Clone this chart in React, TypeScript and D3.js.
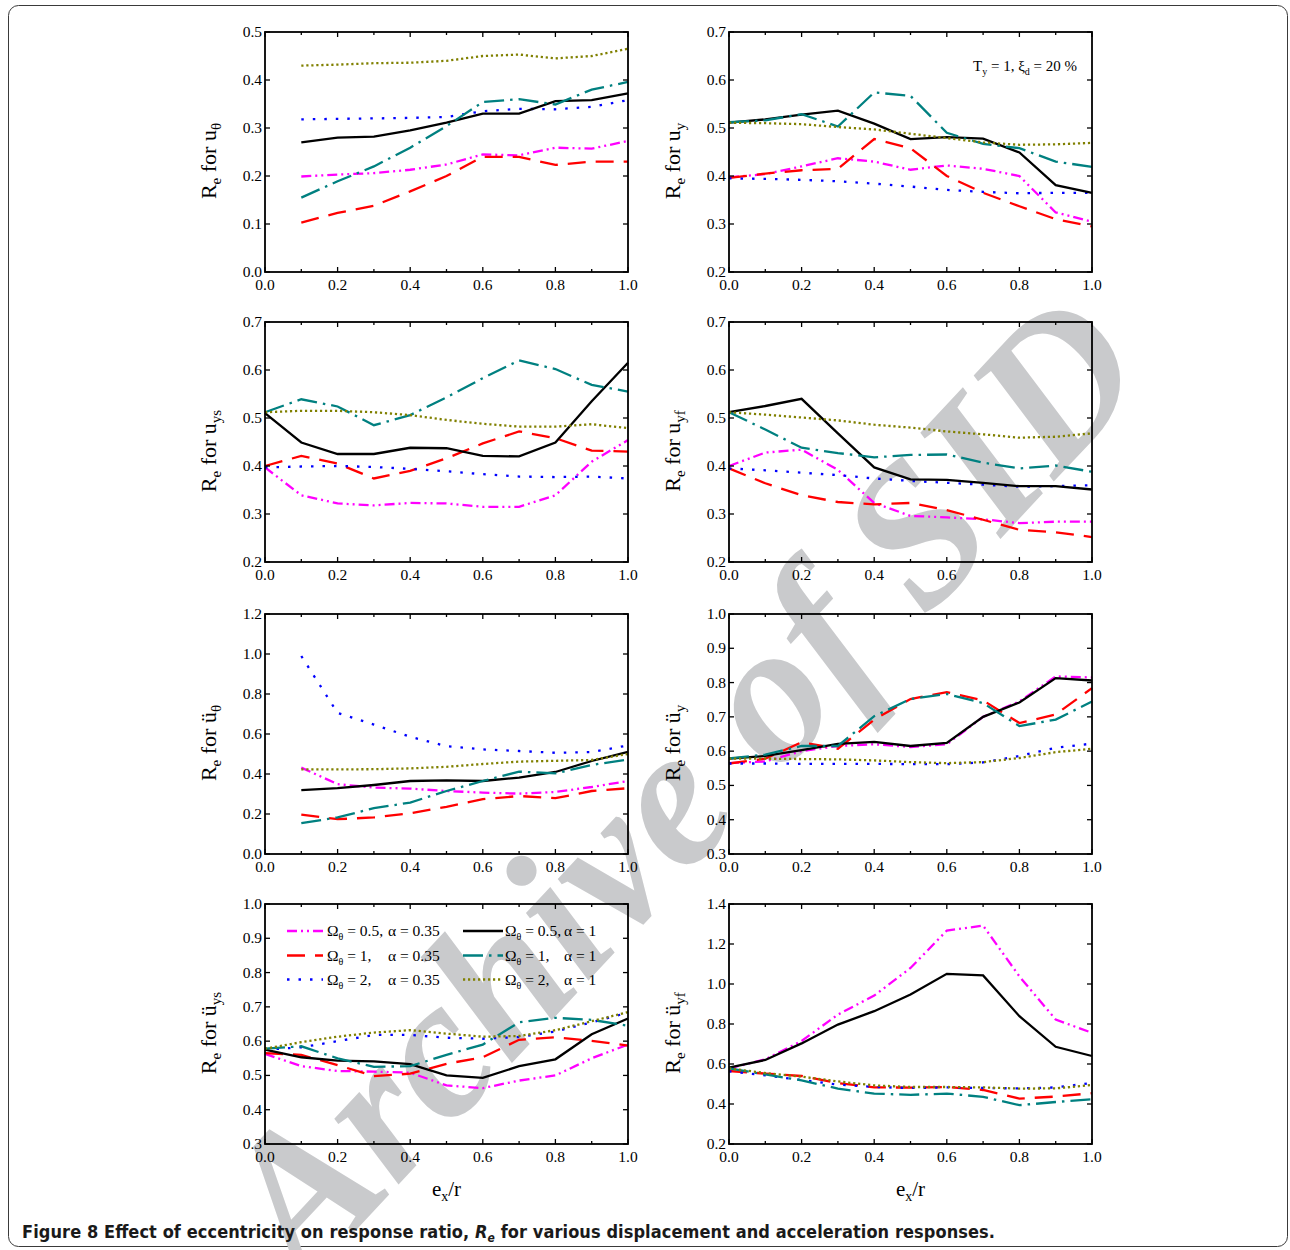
import React from 'react';
import * as d3 from 'd3';

// Eccentricity ratio e_x / r
const X_FULL = [0, 0.1, 0.2, 0.3, 0.4, 0.5, 0.6, 0.7, 0.8, 0.9, 1.0];
const X_FROM_01 = [0.1, 0.2, 0.3, 0.4, 0.5, 0.6, 0.7, 0.8, 0.9, 1.0];

// Series order: [Ω=0.5 α=0.35, Ω=1 α=0.35, Ω=2 α=0.35, Ω=0.5 α=1, Ω=1 α=1, Ω=2 α=1]
const SERIES_COLORS = ['#ff00ff', '#ff0000', '#0000ff', '#000000', '#008080', '#808000'];
const SERIES_DASH = ['10,4,2,4,2,4', '18,10', '2.5,9', '', '20,6,2.5,6', '2.2,2.8'];
const LEGEND_OMEGA = ['= 0.5,', '= 1,', '= 2,', '= 0.5,', '= 1,', '= 2,'];
const LEGEND_ALPHA = ['α = 0.35', 'α = 0.35', 'α = 0.35', 'α = 1', 'α = 1', 'α = 1'];

// R_e for u_θ
const uTheta = [
  [0.199, 0.203, 0.206, 0.213, 0.224, 0.245, 0.243, 0.259, 0.257, 0.273],
  [0.103, 0.123, 0.138, 0.168, 0.2, 0.24, 0.24, 0.223, 0.23, 0.23],
  [0.318, 0.319, 0.32, 0.321, 0.323, 0.335, 0.34, 0.339, 0.344, 0.358],
  [0.27, 0.28, 0.282, 0.295, 0.311, 0.33, 0.33, 0.356, 0.358, 0.372],
  [0.155, 0.189, 0.22, 0.259, 0.304, 0.354, 0.36, 0.349, 0.38, 0.396],
  [0.43, 0.432, 0.435, 0.436, 0.44, 0.45, 0.453, 0.445, 0.45, 0.465],
];

// R_e for u_y
const uY = [
  [0.397, 0.404, 0.42, 0.437, 0.43, 0.413, 0.422, 0.415, 0.4, 0.324, 0.305],
  [0.396, 0.405, 0.412, 0.415, 0.477, 0.458, 0.4, 0.365, 0.337, 0.31, 0.295],
  [0.395, 0.394, 0.392, 0.389, 0.384, 0.378, 0.371, 0.367, 0.364, 0.365, 0.365],
  [0.511, 0.518, 0.528, 0.536, 0.509, 0.477, 0.481, 0.478, 0.449, 0.381, 0.365],
  [0.512, 0.516, 0.529, 0.503, 0.574, 0.567, 0.49, 0.467, 0.458, 0.43, 0.419],
  [0.511, 0.51, 0.508, 0.502, 0.497, 0.488, 0.479, 0.47, 0.465, 0.466, 0.469],
];

// R_e for u_ys
const uYs = [
  [0.397, 0.339, 0.322, 0.318, 0.323, 0.322, 0.315, 0.315, 0.339, 0.409, 0.454],
  [0.4, 0.421, 0.405, 0.374, 0.39, 0.416, 0.447, 0.472, 0.458, 0.432, 0.43],
  [0.397, 0.399, 0.4, 0.398, 0.394, 0.389, 0.383, 0.378, 0.377, 0.378, 0.374],
  [0.51, 0.449, 0.425, 0.425, 0.438, 0.437, 0.421, 0.42, 0.449, 0.535, 0.615],
  [0.512, 0.539, 0.524, 0.485, 0.506, 0.543, 0.583, 0.62, 0.602, 0.569, 0.555],
  [0.512, 0.515, 0.515, 0.512, 0.506, 0.496, 0.488, 0.482, 0.482, 0.487, 0.479],
];

// R_e for u_yf
const uYf = [
  [0.4, 0.428, 0.434, 0.392, 0.323, 0.296, 0.293, 0.289, 0.281, 0.284, 0.284],
  [0.395, 0.364, 0.339, 0.325, 0.32, 0.323, 0.308, 0.288, 0.267, 0.262, 0.252],
  [0.395, 0.391, 0.386, 0.381, 0.374, 0.369, 0.365, 0.361, 0.357, 0.358, 0.36],
  [0.512, 0.525, 0.54, 0.468, 0.397, 0.372, 0.371, 0.365, 0.358, 0.358, 0.351],
  [0.512, 0.476, 0.438, 0.427, 0.418, 0.423, 0.424, 0.407, 0.395, 0.401, 0.388],
  [0.512, 0.507, 0.501, 0.495, 0.486, 0.48, 0.472, 0.466, 0.459, 0.461, 0.468],
];

// R_e for ü_θ
const accTheta = [
  [0.432, 0.349, 0.332, 0.327, 0.315, 0.307, 0.302, 0.31, 0.335, 0.365],
  [0.197, 0.174, 0.183, 0.204, 0.236, 0.274, 0.29, 0.279, 0.315, 0.329],
  [0.99, 0.705, 0.647, 0.586, 0.539, 0.523, 0.515, 0.506, 0.51, 0.543],
  [0.319, 0.329, 0.345, 0.365, 0.368, 0.365, 0.382, 0.41, 0.465, 0.511],
  [0.154, 0.183, 0.229, 0.257, 0.315, 0.365, 0.412, 0.403, 0.445, 0.473],
  [0.423, 0.423, 0.424, 0.428, 0.436, 0.45, 0.462, 0.466, 0.47, 0.5],
];

// R_e for ü_y
const accY = [
  [0.565, 0.57, 0.6, 0.615, 0.62, 0.612, 0.62, 0.7, 0.745, 0.818, 0.815],
  [0.564, 0.578, 0.626, 0.607, 0.692, 0.752, 0.772, 0.748, 0.682, 0.707, 0.784],
  [0.564, 0.564, 0.563, 0.563, 0.563, 0.562, 0.562, 0.567, 0.586, 0.61, 0.622],
  [0.578, 0.586, 0.603, 0.621, 0.627, 0.615, 0.624, 0.7, 0.742, 0.813, 0.806],
  [0.579, 0.59, 0.615, 0.615, 0.702, 0.752, 0.767, 0.74, 0.673, 0.692, 0.745],
  [0.578, 0.578, 0.577, 0.576, 0.573, 0.568, 0.565, 0.568, 0.58, 0.597, 0.607],
];

// R_e for ü_ys
const accYs = [
  [0.563, 0.527, 0.513, 0.511, 0.508, 0.471, 0.463, 0.485, 0.5, 0.55, 0.59],
  [0.565, 0.56, 0.53, 0.498, 0.505, 0.534, 0.553, 0.604, 0.611, 0.601, 0.587],
  [0.575, 0.582, 0.6, 0.618, 0.618, 0.61, 0.607, 0.612, 0.628, 0.655, 0.683],
  [0.575, 0.553, 0.543, 0.541, 0.533, 0.5, 0.493, 0.527, 0.547, 0.62, 0.666],
  [0.578, 0.585, 0.55, 0.525, 0.527, 0.56, 0.59, 0.655, 0.668, 0.662, 0.645],
  [0.578, 0.597, 0.613, 0.625, 0.632, 0.622, 0.613, 0.615, 0.632, 0.658, 0.685],
];

// R_e for ü_yf
const accYf = [
  [0.578, 0.623, 0.715, 0.847, 0.942, 1.08, 1.267, 1.292, 1.038, 0.822, 0.756],
  [0.565, 0.552, 0.54, 0.505, 0.483, 0.482, 0.485, 0.47, 0.427, 0.437, 0.454],
  [0.563, 0.543, 0.52, 0.497, 0.485, 0.48, 0.483, 0.48, 0.478, 0.483, 0.505],
  [0.582, 0.62, 0.703, 0.797, 0.864, 0.947, 1.051, 1.043, 0.839, 0.686, 0.64],
  [0.578, 0.548, 0.518, 0.477, 0.452, 0.446, 0.452, 0.436, 0.394, 0.41, 0.424],
  [0.578, 0.555, 0.537, 0.513, 0.493, 0.485, 0.485, 0.483, 0.477, 0.478, 0.495],
];

const SERIF = '"Liberation Serif", "Times New Roman", serif';
const PANEL_W = 363;
const PANEL_H = 240;
const COL_LEFT = [265, 729];
const ROW_TOP = [32, 322, 614, 904];

type PanelSpec = {
  col: number;
  row: number;
  xs: number[];
  data: number[][];
  yMin: number;
  yMax: number;
  yStep: number;
  sym: string;
  sub: string;
};

const PANELS: PanelSpec[] = [
  { col: 0, row: 0, xs: X_FROM_01, data: uTheta, yMin: 0, yMax: 0.5, yStep: 0.1, sym: 'u', sub: 'θ' },
  { col: 1, row: 0, xs: X_FULL, data: uY, yMin: 0.2, yMax: 0.7, yStep: 0.1, sym: 'u', sub: 'y' },
  { col: 0, row: 1, xs: X_FULL, data: uYs, yMin: 0.2, yMax: 0.7, yStep: 0.1, sym: 'u', sub: 'ys' },
  { col: 1, row: 1, xs: X_FULL, data: uYf, yMin: 0.2, yMax: 0.7, yStep: 0.1, sym: 'u', sub: 'yf' },
  { col: 0, row: 2, xs: X_FROM_01, data: accTheta, yMin: 0, yMax: 1.2, yStep: 0.2, sym: 'ü', sub: 'θ' },
  { col: 1, row: 2, xs: X_FULL, data: accY, yMin: 0.3, yMax: 1.0, yStep: 0.1, sym: 'ü', sub: 'y' },
  { col: 0, row: 3, xs: X_FULL, data: accYs, yMin: 0.3, yMax: 1.0, yStep: 0.1, sym: 'ü', sub: 'ys' },
  { col: 1, row: 3, xs: X_FULL, data: accYf, yMin: 0.2, yMax: 1.4, yStep: 0.2, sym: 'ü', sub: 'yf' },
];

function Panel({ spec }: { spec: PanelSpec }) {
  const left = COL_LEFT[spec.col];
  const top = ROW_TOP[spec.row];
  const x = d3.scaleLinear().domain([0, 1]).range([left, left + PANEL_W]);
  const y = d3.scaleLinear().domain([spec.yMin, spec.yMax]).range([top + PANEL_H, top]);
  const nY = Math.round((spec.yMax - spec.yMin) / spec.yStep);
  const yTicks = d3.range(nY + 1).map((i) => spec.yMin + i * spec.yStep);
  const xMajor = [0, 0.2, 0.4, 0.6, 0.8, 1.0];
  const xMinor = [0.1, 0.3, 0.5, 0.7, 0.9];
  const fmt = d3.format('.1f');
  const bottom = top + PANEL_H;
  const right = left + PANEL_W;
  const line = d3
    .line<number>()
    .x((_, i) => x(spec.xs[i]))
    .y((v) => y(v));

  return (
    <g>
      {spec.data.map((vals, si) => (
        <path
          key={si}
          d={line(vals) || ''}
          fill="none"
          stroke={SERIES_COLORS[si]}
          strokeWidth={2.3}
          strokeDasharray={SERIES_DASH[si] || undefined}
        />
      ))}
      <rect x={left} y={top} width={PANEL_W} height={PANEL_H} fill="none" stroke="#000" strokeWidth={1.8} />
      {xMajor.map((t) => (
        <g key={'xm' + t}>
          <line x1={x(t)} x2={x(t)} y1={bottom} y2={bottom - 5} stroke="#000" strokeWidth={1.3} />
          <line x1={x(t)} x2={x(t)} y1={top} y2={top + 5} stroke="#000" strokeWidth={1.3} />
          <text x={x(t)} y={bottom + 18} textAnchor="middle" fontFamily={SERIF} fontSize={15.5}>
            {fmt(t)}
          </text>
        </g>
      ))}
      {xMinor.map((t) => (
        <g key={'xn' + t}>
          <line x1={x(t)} x2={x(t)} y1={bottom} y2={bottom - 3} stroke="#000" strokeWidth={1.3} />
          <line x1={x(t)} x2={x(t)} y1={top} y2={top + 3} stroke="#000" strokeWidth={1.3} />
        </g>
      ))}
      {yTicks.map((t) => (
        <g key={'y' + t}>
          <line x1={left} x2={left + 5} y1={y(t)} y2={y(t)} stroke="#000" strokeWidth={1.3} />
          <line x1={right} x2={right - 5} y1={y(t)} y2={y(t)} stroke="#000" strokeWidth={1.3} />
          <text x={left - 3} y={y(t) + 5} textAnchor="end" fontFamily={SERIF} fontSize={15.5}>
            {fmt(t)}
          </text>
        </g>
      ))}
      <text
        transform={`translate(${left - 49},${top + PANEL_H / 2 + 9}) rotate(-90)`}
        textAnchor="middle"
        fontFamily={SERIF}
        fontSize={22}
      >
        R<tspan fontSize={15} dy={5}>e</tspan>
        <tspan dy={-5}> for {spec.sym}</tspan>
        <tspan fontSize={15} dy={5}>{spec.sub}</tspan>
      </text>
    </g>
  );
}

function Legend() {
  const rowsY = [931, 955.5, 979.5];
  const cols = [
    { x1: 287, x2: 323, omegaX: 327, alphaX: 388 },
    { x1: 463, x2: 503, omegaX: 505, alphaX: 564 },
  ];
  return (
    <g>
      {SERIES_COLORS.map((c, si) => {
        const col = cols[si < 3 ? 0 : 1];
        const ry = rowsY[si % 3];
        return (
          <g key={si}>
            <line
              x1={col.x1}
              x2={col.x2}
              y1={ry}
              y2={ry}
              stroke={c}
              strokeWidth={2.3}
              strokeDasharray={SERIES_DASH[si] || undefined}
            />
            <text x={col.omegaX} y={ry + 5} fontFamily={SERIF} fontSize={15.5}>
              Ω<tspan fontSize={10} dy={4}>θ</tspan>
              <tspan dy={-4}> {LEGEND_OMEGA[si]}</tspan>
            </text>
            <text x={col.alphaX} y={ry + 5} fontFamily={SERIF} fontSize={15.5}>
              {LEGEND_ALPHA[si]}
            </text>
          </g>
        );
      })}
    </g>
  );
}

export default function App() {
  return (
    <svg
      width={1290}
      height={1250}
      viewBox="0 0 1290 1250"
      style={{ position: 'absolute', left: 0, top: 0, background: '#fff' }}
    >
      <rect x={8.5} y={5.5} width={1279} height={1241} rx={10} fill="#fff" stroke="#3a3a3a" strokeWidth={1} />
      <text
        transform="translate(729,830) rotate(-47)"
        textAnchor="middle"
        fontFamily={SERIF}
        fontStyle="italic"
        fontWeight="bold"
        fontSize={200}
        fill="#c9cacc"
      >
        Archive of SID
      </text>
      {PANELS.map((p, i) => (
        <Panel key={i} spec={p} />
      ))}
      <Legend />
      <text x={973} y={71} fontFamily={SERIF} fontSize={15}>
        T<tspan fontSize={10} dy={4}>y</tspan>
        <tspan dy={-4}> = 1, ξ</tspan>
        <tspan fontSize={10} dy={4}>d</tspan>
        <tspan dy={-4}> = 20 %</tspan>
      </text>
      {[0, 1].map((c) => (
        <text
          key={c}
          x={COL_LEFT[c] + PANEL_W / 2}
          y={1196}
          textAnchor="middle"
          fontFamily={SERIF}
          fontSize={21}
        >
          e<tspan fontSize={14} dy={5}>x</tspan>
          <tspan dy={-5}>/r</tspan>
        </text>
      ))}
      <text
        x={22}
        y={1238}
        fontFamily='"DejaVu Sans Condensed", "Liberation Sans Narrow", "Open Sans", sans-serif'
        fontWeight="bold"
        fontSize={18}
        fill="#1a1a1a"
        textLength={973}
      >
        Figure 8 Effect of eccentricity on response ratio,{' '}
        <tspan fontStyle="italic">R</tspan>
        <tspan fontStyle="italic" fontSize={12} dy={4}>e</tspan>
        <tspan dy={-4}> for various displacement and acceleration responses.</tspan>
      </text>
    </svg>
  );
}
